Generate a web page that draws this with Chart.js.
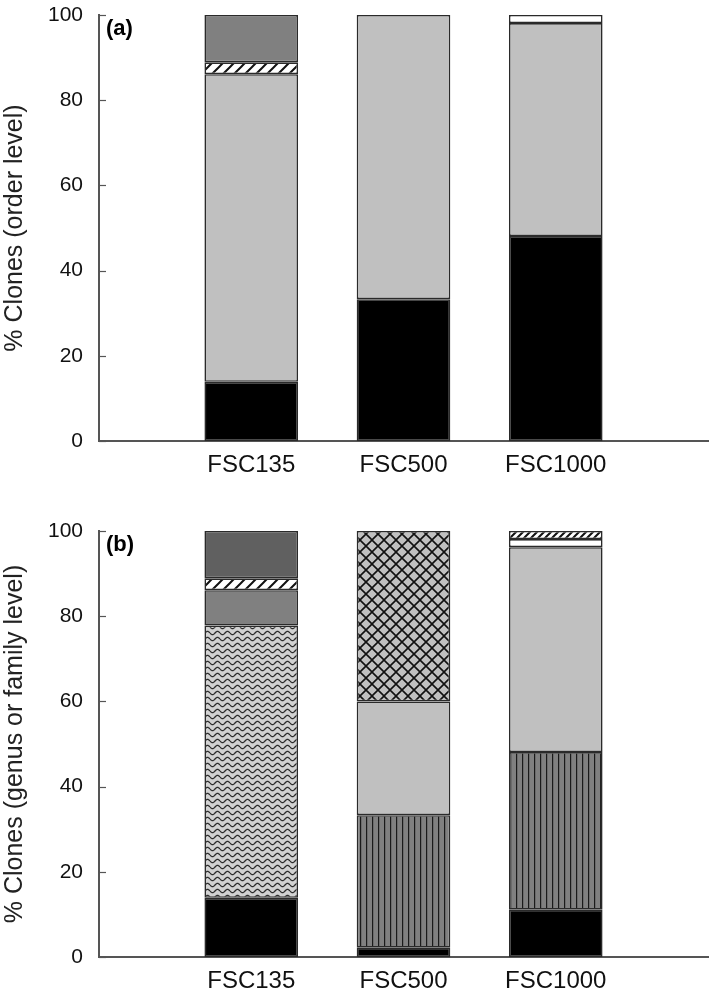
<!DOCTYPE html>
<html>
<head>
<meta charset="utf-8">
<script src="https://cdn.jsdelivr.net/npm/chart.js@4.4.1/dist/chart.umd.min.js"></script>
<style>
  html, body { margin: 0; padding: 0; background: #fff; overflow: hidden; }
  .panel { position: absolute; left: 0; width: 709px; height: 500px; }
  #panelA { top: 0; }
  #panelB { top: 516px; }
</style>
</head>
<body>
<div class="panel" id="panelA"><canvas id="chartA" width="709" height="500"></canvas></div>
<div class="panel" id="panelB"><canvas id="chartB" width="709" height="500"></canvas></div>
<script>
const sites = ["FSC135", "FSC500", "FSC1000"];
const yTicks = [0, 20, 40, 60, 80, 100];

// (a) order level, bottom to top
const orderBlack = [13.9, 33.3, 48.1];
const orderLight = [72.2, 66.7, 50.0];
const orderHatch = [2.8, null, null];
const orderWhite = [null, null, 1.9];
const orderGray = [11.1, null, null];

// (b) genus or family level, bottom to top
const genusBlack = [13.9, 2.2, 11.1];
const genusStripe = [null, 31.1, 37.0];
const genusWavy = [63.9, null, null];
const genusLight = [null, 26.7, 48.1];
const genusGray = [8.3, null, null];
const genusWhite = [null, null, 1.9];
const genusHatch = [2.8, null, 1.9];
const genusCross = [null, 40.0, null];
const genusDark = [11.1, null, null];

Chart.defaults.font.family = "'Liberation Sans', Arial, Helvetica, sans-serif";
Chart.defaults.color = "#111";

// empty slot at each end so the bars sit at 1/4, 2/4, 3/4 of the axis
const labels = ["", ...sites, ""];
const pad = (arr) => [null, ...arr, null];

function makePattern(w, h, draw) {
    const c = document.createElement("canvas");
    c.width = w;
    c.height = h;
    const g = c.getContext("2d");
    draw(g, w, h);
    return g.createPattern(c, "repeat");
}

function hatchPattern(size) {
    return makePattern(size, size, (g, w, h) => {
        g.fillStyle = "#fff";
        g.fillRect(0, 0, w, h);
        g.strokeStyle = "#111";
        g.lineWidth = 2;
        g.beginPath();
        g.moveTo(-1, h + 1); g.lineTo(w + 1, -1);
        g.moveTo(-w / 2, h / 2); g.lineTo(w / 2, -h / 2);
        g.moveTo(w / 2, h * 1.5); g.lineTo(w * 1.5, h / 2);
        g.stroke();
    });
}

const stripes = makePattern(6, 6, (g, w, h) => {
    g.fillStyle = "#808080";
    g.fillRect(0, 0, w, h);
    g.fillStyle = "#1a1a1a";
    g.fillRect(0, 0, 1.2, h);
});

const wavy = makePattern(10, 6, (g, w, h) => {
    g.fillStyle = "#d2d2d2";
    g.fillRect(0, 0, w, h);
    g.strokeStyle = "#2a2a2a";
    g.lineWidth = 1.3;
    g.beginPath();
    for (let x = 0; x <= w; x += 0.5) {
        const y = 3 + 1.6 * Math.sin((x / w) * Math.PI * 2);
        if (x === 0) g.moveTo(x, y); else g.lineTo(x, y);
    }
    g.stroke();
});

const cross = makePattern(12, 12, (g, w, h) => {
    g.fillStyle = "#c0c0c0";
    g.fillRect(0, 0, w, h);
    g.strokeStyle = "#111";
    g.lineWidth = 1.6;
    g.beginPath();
    g.moveTo(0, 0); g.lineTo(w, h);
    g.moveTo(0, h); g.lineTo(w, 0);
    g.stroke();
});

const hatchWide = hatchPattern(11);
const hatchNarrow = hatchPattern(7);

// inward tick marks on the y axis plus the panel letter
const panelExtras = {
    id: "panelExtras",
    afterDraw(chart, args, opts) {
        const { ctx, chartArea } = chart;
        const y = chart.scales.y;
        ctx.save();
        ctx.strokeStyle = "#555";
        ctx.lineWidth = 1.2;
        yTicks.forEach((v) => {
            const py = Math.round(y.getPixelForValue(v)) + 0.5;
            ctx.beginPath();
            ctx.moveTo(chartArea.left, py);
            ctx.lineTo(chartArea.left + 7, py);
            ctx.stroke();
        });
        ctx.fillStyle = "#000";
        ctx.font = "bold 22px 'Liberation Sans', Arial, sans-serif";
        ctx.textBaseline = "top";
        ctx.fillText(opts.letter, chartArea.left + 7, chartArea.top + 3);
        ctx.restore();
    }
};

function buildChart(id, letter, yTitle, datasets) {
    return new Chart(document.getElementById(id), {
        type: "bar",
        data: {
            labels,
            datasets: datasets.map((d) => ({
                data: pad(d.data),
                backgroundColor: Array.isArray(d.fill) ? pad(d.fill) : d.fill
            }))
        },
        options: {
            responsive: false,
            animation: false,
            devicePixelRatio: 1,
            layout: { padding: { top: 15, right: 1, left: 0, bottom: 0 } },
            datasets: {
                bar: {
                    barPercentage: 0.615,
                    categoryPercentage: 1,
                    borderColor: "#2a2a2a",
                    borderWidth: 1.6,
                    borderSkipped: false
                }
            },
            plugins: {
                legend: { display: false },
                tooltip: { enabled: false },
                panelExtras: { letter }
            },
            scales: {
                x: {
                    stacked: true,
                    offset: false,
                    grid: { display: false, drawTicks: false },
                    border: { display: true, color: "#555", width: 2 },
                    ticks: { font: { size: 24 }, padding: 10, autoSkip: false, maxRotation: 0, color: "#111" },
                    afterFit: (s) => { s.height = 59; s.paddingLeft = 0; s.paddingRight = 0; }
                },
                y: {
                    stacked: true,
                    min: 0,
                    max: 100,
                    afterBuildTicks: (s) => { s.ticks = yTicks.map((v) => ({ value: v })); },
                    grid: { display: false, drawTicks: false },
                    border: { display: true, color: "#555", width: 2 },
                    ticks: { font: { size: 21 }, padding: 16, color: "#111" },
                    title: { display: true, text: yTitle, font: { size: 25 }, color: "#222", padding: 0 },
                    afterFit: (s) => { s.width = 99; s.paddingTop = 0; s.paddingBottom = 0; }
                }
            }
        },
        plugins: [panelExtras]
    });
}

buildChart("chartA", "(a)", "% Clones (order level)", [
    { data: orderBlack, fill: "#000" },
    { data: orderLight, fill: "#c0c0c0" },
    { data: orderHatch, fill: hatchWide },
    { data: orderWhite, fill: "#fff" },
    { data: orderGray, fill: "#808080" }
]);

buildChart("chartB", "(b)", "% Clones (genus or family level)", [
    { data: genusBlack, fill: "#000" },
    { data: genusStripe, fill: stripes },
    { data: genusWavy, fill: wavy },
    { data: genusLight, fill: "#c0c0c0" },
    { data: genusGray, fill: "#808080" },
    { data: genusWhite, fill: "#fff" },
    { data: genusHatch, fill: [hatchWide, null, hatchNarrow] },
    { data: genusCross, fill: cross },
    { data: genusDark, fill: "#606060" }
]);
</script>
</body>
</html>
